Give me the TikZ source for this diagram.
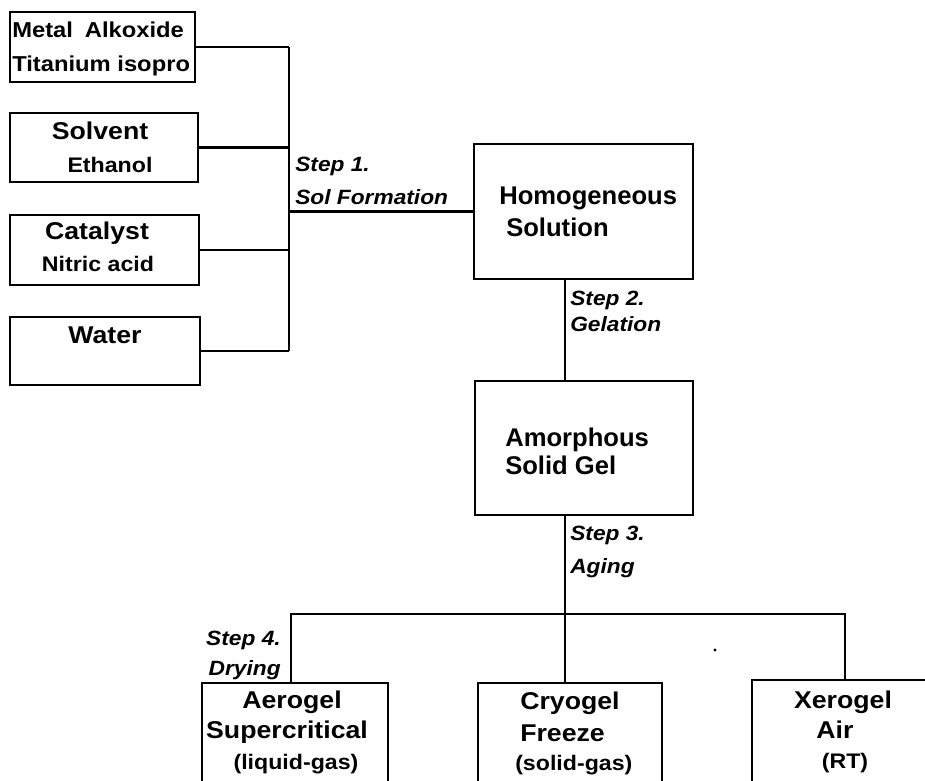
\documentclass[tikz,border=0pt]{standalone}
\usepackage{fontspec}
\setmainfont{Liberation Sans}[FakeStretch=1.1]
\newfontfamily\midfont{Liberation Sans}
\usetikzlibrary{fit}
\begin{document}
\begin{tikzpicture}[x=0.75pt,y=-0.75pt,
  box/.style={draw, line width=1.7pt, inner sep=0pt},
  conn/.style={line width=1.7pt},
  ttl/.style={inner sep=0pt, font=\fontsize{18.2}{22}\selectfont\bfseries},
  sub/.style={inner sep=0pt, font=\fontsize{15.8}{19}\selectfont\bfseries},
  mid/.style={inner sep=0pt, font=\midfont\fontsize{19.2}{22}\selectfont\bfseries},
  steplab/.style={inner sep=0pt, font=\fontsize{15.5}{19}\selectfont\bfseries\itshape}]
\useasboundingbox (0,0) rectangle (925,781);
\clip (0,0) rectangle (925,781);
% boxes
\node[box, fit={(10,12) (195,82)}] (b1) {};
\node[box, fit={(10,113) (198,182)}] (b2) {};
\node[box, fit={(10,215) (199,285)}] (b3) {};
\node[box, fit={(10,317) (200,385)}] (b4) {};
\node[box, fit={(474,144) (693,279)}] (hom) {};
\node[box, fit={(475,381) (693,515)}] (amo) {};
\node[box, fit={(202,683) (388,800)}] (aer) {};
\node[box, fit={(478,683) (662,800)}] (cry) {};
\node[box, fit={(752,680) (940,800)}] (xer) {};
% helper coordinates
\coordinate (busx) at (289,0);
\coordinate (x2) at (565,0);
\coordinate (busl) at (291,614);
\coordinate (busr) at (845,614);
% connectors
\draw[conn] (b1.east) -- (b1.east -| busx) coordinate (t1);
\draw[conn] (b2.east) -- (b2.east -| busx) coordinate (t2);
\draw[conn] (b3.east) -- (b3.east -| busx) coordinate (t3);
\draw[conn] (b4.east) -- (b4.east -| busx) coordinate (t4);
\draw[conn] (t1) -- (t4);
\draw[conn] (hom.west -| busx) -- (hom.west);
\draw[conn] (hom.south -| x2) -- (amo.north -| x2);
\draw[conn] (amo.south -| x2) -- (cry.north -| x2);
\draw[conn] (aer.north -| busl) -- (busl) -- (busr) -- (xer.north -| busr);
\fill (715,650) circle (1.6);
% texts in left boxes
\node[inner sep=0pt, font=\fontsize{16.2}{19}\selectfont\bfseries, anchor=base west] (t1a) at (12,38) {Metal\hspace{0.55em}Alkoxide};
\node[inner sep=0pt, font=\fontsize{16.2}{19}\selectfont\bfseries, anchor=base west] (t1b) at (12,72) {Titanium isopro};
\node[ttl, anchor=base] (t2a) at (100,140) {Solvent};
\node[sub, anchor=base] (t2b) at (110,173) {Ethanol};
\node[ttl, anchor=base] (t3a) at (97,239) {Catalyst};
\node[sub, anchor=base] (t3b) at (98,272) {Nitric acid};
\node[ttl, anchor=base] (t4a) at (105,343) {Water};
% central boxes
\node[mid, anchor=base west] (h1) at (499,205) {Homogeneous};
\node[mid, anchor=base west] (h2) at (506,237) {Solution};
\node[mid, anchor=base west] (a1) at (505,446) {Amorphous};
\node[mid, anchor=base west] (a2) at (505,474) {Solid Gel};
% step labels
\node[steplab, anchor=base west] (s1a) at (295,172) {Step 1.};
\node[steplab, anchor=base west] (s1b) at (295,205) {Sol Formation};
\node[steplab, anchor=base west] (s2a) at (570,305) {Step 2.};
\node[steplab, anchor=base west] (s2b) at (570,331) {Gelation};
\node[steplab, anchor=base west] (s3a) at (570,540) {Step 3.};
\node[steplab, anchor=base west] (s3b) at (570,573) {Aging};
\node[steplab, anchor=base east] (s4a) at (281,645) {Step 4.};
\node[steplab, anchor=base east] (s4b) at (281,675) {Drying};
% bottom boxes
\node[ttl, anchor=base] (e1) at (292,708) {Aerogel};
\node[ttl, anchor=base] (e2) at (287,738) {Supercritical};
\node[sub, anchor=base] (e3) at (296,769) {(liquid-gas)};
\node[ttl, anchor=base west] (c1) at (520,709) {Cryogel};
\node[ttl, anchor=base west] (c2) at (520,741) {Freeze};
\node[sub, anchor=base west] (c3) at (515,770) {(solid-gas)};
\node[ttl, anchor=base] (x1) at (843,708) {Xerogel};
\node[ttl, anchor=base] (x2t) at (835,738) {Air};
\node[sub, anchor=base] (x3) at (845,768) {(RT)};
\end{tikzpicture}
\end{document}
